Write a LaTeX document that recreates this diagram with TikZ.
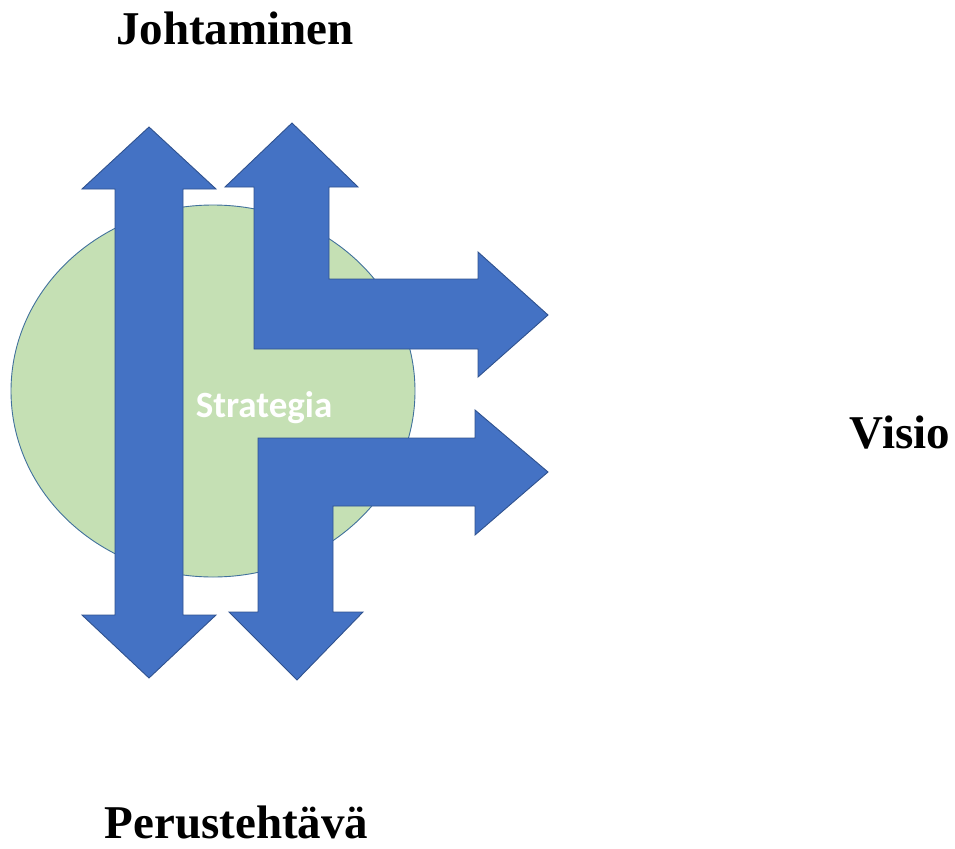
\documentclass[tikz,border=0pt]{standalone}
\usepackage{fontspec}
\setmainfont{Liberation Serif}
\newfontfamily\calib{Carlito}
\definecolor{arrowblue}{HTML}{4472C4}
\definecolor{arrowedge}{HTML}{2F528F}
\definecolor{circgreen}{HTML}{C5E0B4}
\definecolor{circedge}{HTML}{41719C}
\begin{document}
\begin{tikzpicture}[x=1pt,y=-1pt,
  bigarrow/.style={fill=arrowblue,draw=arrowedge,line width=0.9pt,line join=miter},
  label/.style={font=\fontsize{47}{50}\selectfont\bfseries,text=black,inner sep=0pt,anchor=base},
  strat/.style={font=\calib\fontsize{37}{40}\selectfont\bfseries,text=white,inner sep=0pt,anchor=base}]
\useasboundingbox (0,0) rectangle (955,848);
% circle
\draw[fill=circgreen,draw=circedge,line width=0.9pt] (213,391) ellipse [x radius=202, y radius=186];
% left double arrow
\draw[bigarrow] (115,189) -- (82,189) -- (149,127) -- (216,189) -- (183,189) -- (183,615) -- (216,615) -- (149,678) -- (82,615) -- (115,615) -- cycle;
% upper L arrow
\draw[bigarrow] (254,349) -- (254,187) -- (225,187) -- (292,123) -- (358,187) -- (329,187) -- (329,279) -- (478,279) -- (478,252) -- (548,315) -- (478,377) -- (478,349) -- cycle;
% lower L arrow
\draw[bigarrow] (258,438) -- (475,438) -- (475,410) -- (548,472) -- (475,535) -- (475,506) -- (333,506) -- (333,612) -- (363,612) -- (297,680) -- (229,612) -- (258,612) -- cycle;
% texts
\node[strat] (strategia) at (264,417) {Strategia};
\node[label] (johtaminen) at (235,45) {Johtaminen};
\node[label] (perustehtava) at (236.5,838) {Perustehtävä};
\node[label] (visio) at (900,448) {Visio};
\end{tikzpicture}
\end{document}
